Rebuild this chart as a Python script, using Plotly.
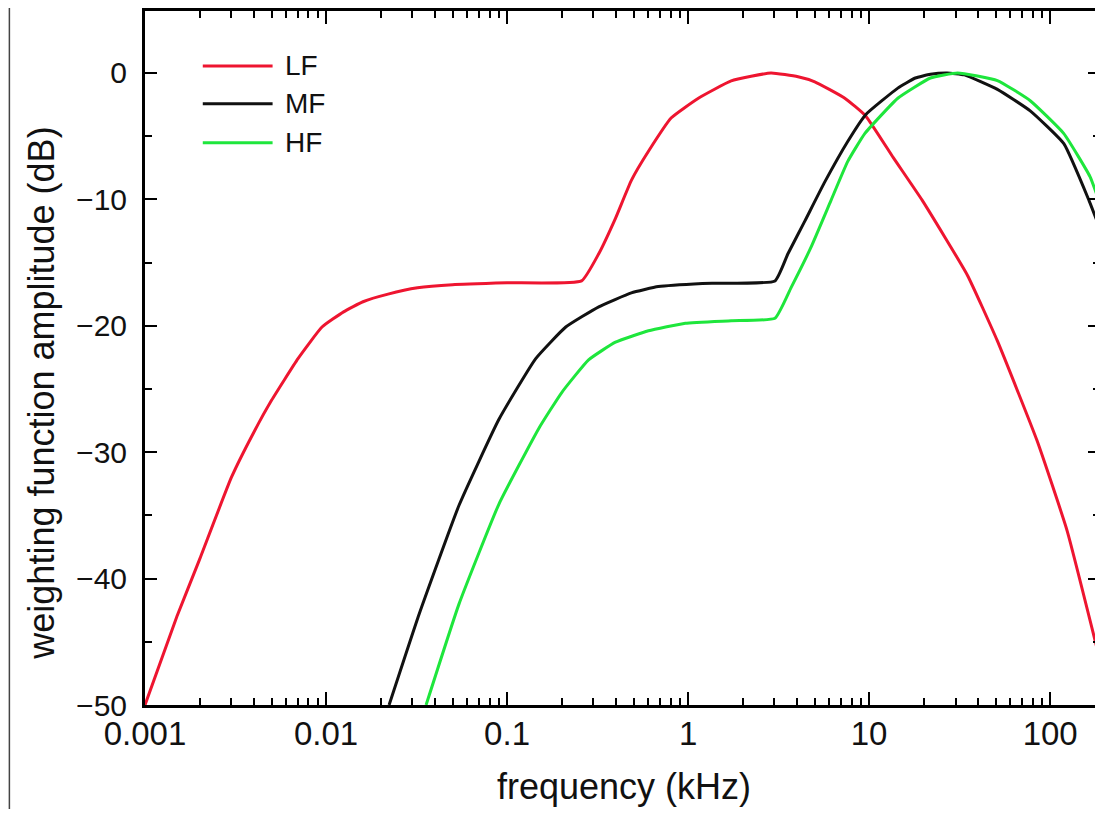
import plotly.graph_objects as go

# ---- data (frequency in kHz, amplitude in dB) ----
series_names = ["LF", "MF", "HF"]
series_colors = ["#ee1530", "#111111", "#1ee63c"]

lf_freq = [0.001, 0.0015, 0.002, 0.003, 0.004, 0.005, 0.007, 0.0095, 0.0125, 0.016, 0.022,
           0.032, 0.05, 0.1, 0.258, 0.321, 0.397, 0.486, 0.604, 0.808, 1.14, 1.73, 2.87,
           4.05, 5.01, 7.34, 9.57, 13.6, 19.7, 34.9, 51.1, 84.7, 124, 188]
lf_db = [-50, -43.0, -38.5, -32.0, -28.4, -25.9, -22.6, -20.1, -18.9, -18.1, -17.5,
         -17.0, -16.75, -16.6, -16.45, -14.3, -11.5, -8.5, -6.2, -3.55, -2.0, -0.63, 0.0,
         -0.3, -0.7, -2.0, -3.4, -6.7, -10.1, -16.0, -21.2, -29.1, -36.2, -46.4]

mf_freq = [0.0223, 0.0327, 0.0543, 0.0902, 0.144, 0.211, 0.321, 0.486, 0.685, 1.2, 3.02,
           3.56, 4.42, 5.70, 7.63, 9.57, 14.4, 18.0, 21.8, 27.0, 33.6, 51.1, 77.6,
           119, 164, 188]
mf_db = [-50, -42.8, -34.2, -27.4, -22.6, -20.1, -18.5, -17.4, -16.9, -16.65, -16.45,
         -14.3, -11.7, -8.6, -5.4, -3.3, -1.2, -0.4, -0.1, 0.0, -0.15, -1.3, -3.0,
         -5.6, -10.1, -12.3]

hf_freq = [0.0357, 0.0543, 0.0902, 0.15, 0.2, 0.282, 0.397, 0.604, 0.966, 1.73, 3.02,
           3.70, 4.77, 6.15, 7.62, 9.46, 14.4, 21.8, 30.8, 51.1, 77.6, 119, 166, 188]
hf_db = [-50, -42.0, -34.1, -28.1, -25.3, -22.7, -21.3, -20.4, -19.8, -19.6, -19.4,
         -17.0, -13.8, -10.1, -7.0, -4.8, -2.0, -0.4, 0.0, -0.6, -2.2, -4.8, -8.2, -10.3]

x_tickvals = [0.001, 0.01, 0.1, 1, 10, 100]
x_ticktext = ["0.001", "0.01", "0.1", "1", "10", "100"]
y_tickvals = [0, -10, -20, -30, -40, -50]
y_ticktext = ["0", "\u221210", "\u221220", "\u221230", "\u221240", "\u221250"]

x_title = "frequency (kHz)"
y_title = "weighting function amplitude (dB)"

FONT = "Liberation Sans, Arial, sans-serif"

fig = go.Figure()
for name, color, fx, fy in zip(series_names, series_colors,
                               [lf_freq, mf_freq, hf_freq], [lf_db, mf_db, hf_db]):
    fig.add_trace(go.Scatter(x=fx, y=fy, mode="lines", name=name,
                             line=dict(color=color, width=3, shape="spline", smoothing=0.4),
                             showlegend=False))

minor_x = [k * 10.0 ** e for e in range(-3, 3) for k in range(2, 10)]

# page body has an 8px margin, so the figure is 1095 x 801 and sits at (8, 8)
fig.update_layout(
    width=1095, height=801,
    margin=dict(l=137, r=0, t=2, b=104),
    paper_bgcolor="white", plot_bgcolor="white",
    font=dict(family=FONT, color="#111111"),
    xaxis=dict(type="log", range=[-3, 2.2753], tickmode="array",
               tickvals=x_tickvals, ticktext=x_ticktext,
               ticks="inside", ticklen=13, tickwidth=2, tickcolor="black",
               showline=True, linewidth=3, linecolor="black", mirror="allticks",
               showgrid=False, zeroline=False,
               tickfont=dict(size=33, family=FONT, color="#111111"),
               ticklabelstandoff=-3,
               minor=dict(tickvals=minor_x, ticks="inside", ticklen=7, tickwidth=2,
                          tickcolor="black", showgrid=False)),
    yaxis=dict(range=[-50, 4.9], tickmode="array",
               tickvals=y_tickvals, ticktext=y_ticktext,
               ticks="inside", ticklen=12, tickwidth=2, tickcolor="black",
               showline=True, linewidth=3, linecolor="black", mirror="allticks",
               showgrid=False, zeroline=False,
               tickfont=dict(size=30, family=FONT, color="#111111"),
               ticklabelstandoff=9,
               minor=dict(dtick=5, ticks="inside", ticklen=7, tickwidth=2,
                          tickcolor="black", showgrid=False)),
)

# axis titles
fig.add_annotation(text=x_title, xref="paper", yref="paper", x=0.502, y=-0.1496,
                   xanchor="center", yanchor="bottom", showarrow=False,
                   font=dict(size=36, family=FONT, color="#111111"))
fig.add_annotation(text=y_title, xref="paper", yref="paper", x=-0.1086, y=0.449,
                   xanchor="center", yanchor="middle", showarrow=False, textangle=-90,
                   font=dict(size=36, family=FONT, color="#111111"))

# legend (drawn manually)
leg_y = [0.9209, 0.8662, 0.8101]
for name, color, ly in zip(series_names, series_colors, leg_y):
    fig.add_shape(type="line", xref="paper", yref="paper", x0=0.0605, x1=0.1336,
                  y0=ly, y1=ly, line=dict(color=color, width=3))
    fig.add_annotation(text=name, xref="paper", yref="paper", x=0.1441, y=ly,
                       xanchor="left", yanchor="middle", showarrow=False,
                       font=dict(size=28, family=FONT, color="#111111"))

# left edge of the outer frame
fig.add_shape(type="line", xref="paper", yref="paper", x0=-0.1420, x1=-0.1420,
              y0=-0.2, y1=1.02, line=dict(color="#444444", width=1.5), layer="below")

fig.write_html("out.html")
